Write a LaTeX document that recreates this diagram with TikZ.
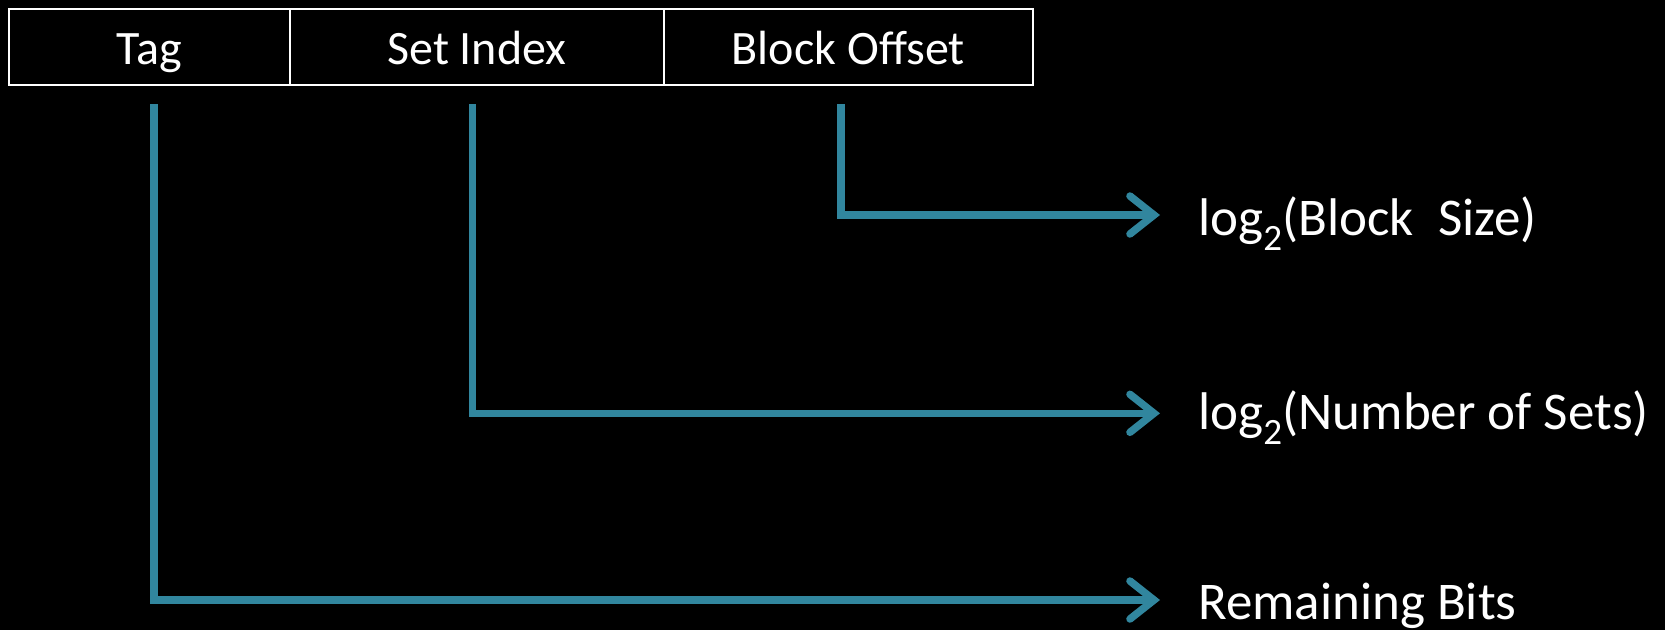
\documentclass[tikz,border=0pt]{standalone}
\usepackage{fontspec}
\setmainfont{Carlito}
\usetikzlibrary{arrows.meta}
\definecolor{wire}{RGB}{49,134,158}
\tikzset{
  field/.style={draw=white, line width=2pt, minimum height=76.5pt, inner sep=0pt,
    text height=35pt, text depth=0pt,
    text=white, font=\fontsize{48}{57}\selectfont},
  result/.style={anchor=base west, inner sep=0pt, text=white, font=\fontsize{53}{64}\selectfont},
  wirepath/.style={draw=wire, line width=7.5pt,
    -{Straight Barb[length=24pt,width=38pt,line cap=round]}}
}
\begin{document}
\begin{tikzpicture}[x=1pt,y=-1pt]
  \fill[black] (0,0) rectangle (1665,630);
  \useasboundingbox (0,0) rectangle (1665,630);

  % address fields
  \node[field, minimum width=281.5pt] (tag)   at (149.25,46.75) {Tag};
  \node[field, minimum width=373.7pt] (index) at (476.85,46.75) {Set Index};
  \node[field, minimum width=369.3pt] (off)   at (848.35,46.75) {Block Offset};

  % field widths
  \node[result] (bsize) at (1198,235)   {log\textsubscript{2}(Block\ \ Size)};
  \node[result] (nsets) at (1198,429.3) {log\textsubscript{2}(Number of Sets)};
  \node[result] (rest)  at (1198,619.3) {Remaining Bits};

  \coordinate (offtap)   at (841,104);
  \coordinate (indextap) at (472.6,104);
  \coordinate (tagtap)   at (154,104);
  \coordinate (bsizetip) at (1160,215);
  \coordinate (nsetstip) at (1160,413.3);
  \coordinate (resttip)  at (1160,600);

  \draw[wirepath] (offtap)   |- (bsizetip);
  \draw[wirepath] (indextap) |- (nsetstip);
  \draw[wirepath] (tagtap)   |- (resttip);
\end{tikzpicture}
\end{document}
